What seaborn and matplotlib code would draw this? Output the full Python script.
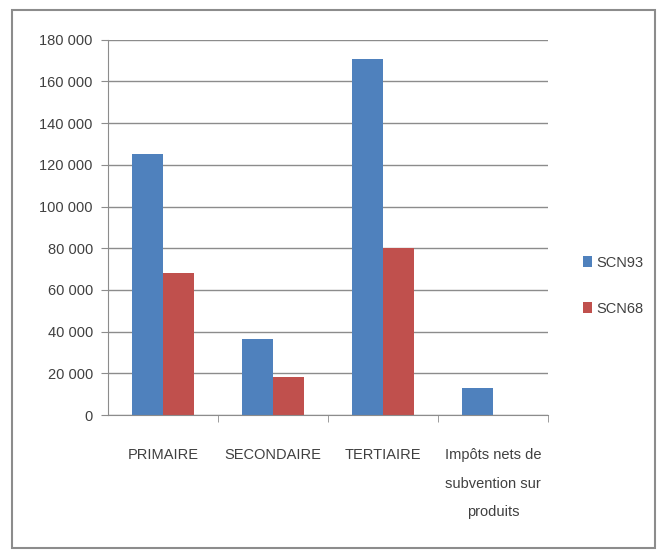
import numpy as np
import pandas as pd
import matplotlib
matplotlib.use("Agg")
import matplotlib.pyplot as plt
import seaborn as sns
from matplotlib.ticker import FuncFormatter, FixedLocator
from matplotlib.patches import Rectangle

# données
categories = ["PRIMAIRE", "SECONDAIRE", "TERTIAIRE",
              "Impôts nets de\nsubvention sur\nproduits"]
scn93 = [125000, 36500, 171000, 13000]
scn68 = [68000, 18300, 80000, np.nan]
series = ["SCN93", "SCN68"]
colors = ["#4F81BD", "#C0504D"]

df = pd.DataFrame({
    "categorie": categories * 2,
    "valeur": scn93 + scn68,
    "serie": [series[0]] * 4 + [series[1]] * 4,
})

sns.set_style("white")
plt.rcParams["font.family"] = ["Liberation Sans Narrow", "Liberation Sans", "DejaVu Sans"]

fig = plt.figure(figsize=(6.59, 5.52), dpi=100)
ax = fig.add_axes([0.164, 0.248, 0.668, 0.680])

sns.barplot(data=df, x="categorie", y="valeur", hue="serie",
            palette=colors, width=0.56, saturation=1, linewidth=0,
            ax=ax, legend=True)

ax.set_ylim(0, 180000)
ax.set_xlim(-0.5, 3.5)
ax.set_yticks(np.arange(0, 180001, 20000))
ax.yaxis.set_major_formatter(FuncFormatter(lambda v, p: f"{int(v):,}".replace(",", " ")))
ax.grid(axis="y", color="#8c8c8c", linewidth=1)
ax.set_axisbelow(True)
ax.set_xlabel("")
ax.set_ylabel("")

for s in ["top", "right"]:
    ax.spines[s].set_visible(False)
ax.spines["left"].set_color("#8c8c8c")
ax.spines["bottom"].set_color("#8c8c8c")

ax.tick_params(axis="y", labelsize=10.5, colors="#404040", length=5, color="#8c8c8c",
               left=True, pad=6)
ax.tick_params(axis="x", labelsize=10.5, colors="#404040", length=0, pad=24)
ax.xaxis.set_minor_locator(FixedLocator([0.5, 1.5, 2.5, 3.5]))
ax.tick_params(axis="x", which="minor", length=5, color="#8c8c8c", bottom=True)
for lbl in ax.get_xticklabels():
    lbl.set_linespacing(2.3)
    lbl.set_va("top")

leg = ax.legend(loc="center left", bbox_to_anchor=(1.05, 0.345), frameon=False,
                fontsize=10.5, handlelength=0.6, handleheight=0.8,
                handletextpad=0.3, labelspacing=2.2)
for t in leg.get_texts():
    t.set_color("#404040")

# cadre extérieur
fig.patches.append(Rectangle((0.018, 0.007), 0.976, 0.975, transform=fig.transFigure,
                             fill=False, edgecolor="#8c8c8c", linewidth=1.5))

fig.savefig("out.png", dpi=100)
